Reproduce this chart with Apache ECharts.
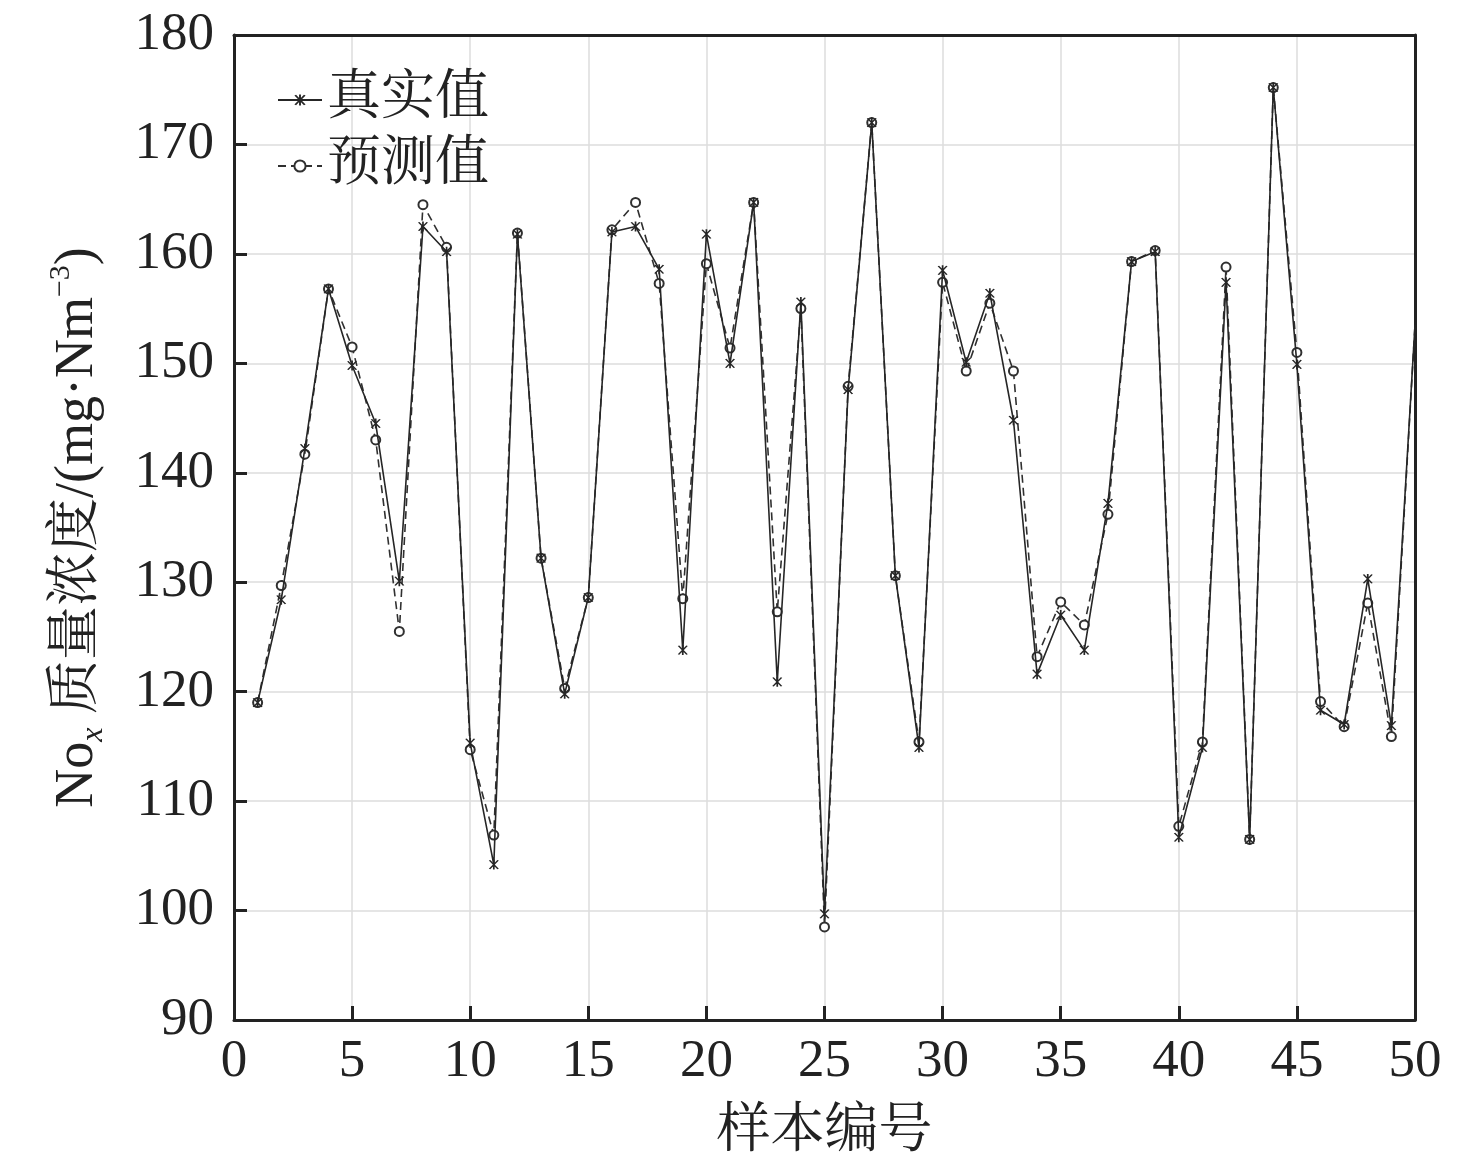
<!DOCTYPE html>
<html>
<head>
<meta charset="utf-8">
<script src="https://cdn.jsdelivr.net/npm/echarts@6/dist/echarts.min.js"></script>
<style>html,body{margin:0;padding:0;background:#fff}#c{width:1476px;height:1169px}</style>
</head>
<body>
<div id="c"></div>
<script>
var samples = [1,2,3,4,5,6,7,8,9,10,11,12,13,14,15,16,17,18,19,20,21,22,23,24,25,26,27,28,29,30,31,32,33,34,35,36,37,38,39,40,41,42,43,44,45,46,47,48,49,50];
var actualValues = [119.0,128.4,142.2,156.8,149.8,144.5,130.1,162.5,160.2,115.3,104.2,161.8,132.2,119.8,128.6,162.0,162.5,158.6,123.8,161.8,150.0,164.7,120.9,155.6,99.7,147.6,172.0,130.6,114.9,158.5,150.1,156.4,144.8,121.6,127.0,123.8,137.2,159.3,160.2,106.7,114.9,157.4,106.5,175.2,149.9,118.3,117.0,130.3,116.9,153.5];
var predictedValues = [119.0,129.7,141.7,156.8,151.5,143.0,125.5,164.5,160.6,114.7,106.9,161.9,132.2,120.3,128.6,162.2,164.7,157.3,128.5,159.1,151.4,164.7,127.3,155.0,98.5,147.9,172.0,130.6,115.4,157.4,149.3,155.5,149.3,123.2,128.2,126.1,136.2,159.3,160.3,107.7,115.4,158.8,106.5,175.2,151.0,119.1,116.8,128.1,115.9,153.5];
var xTicks = [0,5,10,15,20,25,30,35,40,45,50];
var yTicks = [90,100,110,120,130,140,150,160,170,180];
var seriesNames = ['真实值','预测值'];

var serif = '"Liberation Serif","Times New Roman","Noto Serif CJK SC","Noto Sans CJK SC",serif';
var asterisk = 'path://M9,0 L11,0 L11,20 L9,20 Z M4.13,1.84 L5.87,0.84 L15.87,18.16 L14.13,19.16 Z M14.13,0.84 L15.87,1.84 L5.87,19.16 L4.13,18.16 Z';

// the point at the right frame edge is drawn without a marker (as in the reference)
function pairs(vals){
  return samples.map(function(s,i){
    var item = { value: [s, vals[i]] };
    if (s === xTicks[xTicks.length-1]) item.symbolSize = 0;
    return item;
  });
}

var chart = echarts.init(document.getElementById('c'));
var frameLine = { show: true, onZero: false, lineStyle: { color: '#222', width: 3 } };
chart.setOption({
  animation: false,
  backgroundColor: '#fff',
  textStyle: { fontFamily: serif },
  grid: { left: 234, right: 61, top: 35, bottom: 149 },
  legend: {
    orient: 'vertical', left: 272, top: 68, itemWidth: 44, itemHeight: 14, itemGap: 12,
    textStyle: { fontFamily: serif, fontSize: 54, color: '#222', padding: [0,0,0,0] },
    data: seriesNames
  },
  xAxis: [{
    type: 'value', min: xTicks[0], max: xTicks[xTicks.length-1], interval: 5,
    name: '样本编号', nameLocation: 'middle', nameGap: 86,
    nameTextStyle: { fontFamily: serif, fontSize: 54, color: '#222' },
    axisLine: frameLine,
    axisTick: { show: true, inside: true, length: 14, lineStyle: { color: '#222', width: 3 } },
    axisLabel: { fontSize: 53, color: '#222', margin: 16, fontFamily: serif, showMinLabel: true, showMaxLabel: true },
    splitLine: { show: true, lineStyle: { color: '#dcdcdc', width: 1.5 } }
  }, {
    type: 'value', position: 'top', min: xTicks[0], max: xTicks[xTicks.length-1], interval: 5,
    axisLine: frameLine, axisTick: { show: false }, axisLabel: { show: false }, splitLine: { show: false }
  }],
  yAxis: [{
    type: 'value', min: yTicks[0], max: yTicks[yTicks.length-1], interval: 10,
    name: '{a|No}{sub|x}{a| 质量浓度/(mg·Nm}{sup|−3}{a|)}',
    nameLocation: 'middle', nameGap: 124, nameRotate: 90,
    nameTextStyle: {
      fontFamily: serif, fontSize: 54, color: '#222',
      rich: {
        a: { fontFamily: serif, fontSize: 54, color: '#222', lineHeight: 64 },
        sub: { fontFamily: serif, fontSize: 32, fontStyle: 'italic', color: '#222', verticalAlign: 'bottom', lineHeight: 64 },
        sup: { fontFamily: serif, fontSize: 30, color: '#222', verticalAlign: 'top', lineHeight: 64 }
      }
    },
    axisLine: frameLine,
    axisTick: { show: true, inside: true, length: 13, lineStyle: { color: '#222', width: 3 } },
    axisLabel: { fontSize: 53, color: '#222', margin: 20, fontFamily: serif, showMinLabel: true, showMaxLabel: true },
    splitLine: { show: true, lineStyle: { color: '#dcdcdc', width: 1.5 } }
  }, {
    type: 'value', position: 'right', min: yTicks[0], max: yTicks[yTicks.length-1], interval: 10,
    axisLine: frameLine, axisTick: { show: false }, axisLabel: { show: false }, splitLine: { show: false }
  }],
  series: [
    {
      name: seriesNames[0], type: 'line', data: pairs(actualValues),
      symbol: asterisk, symbolSize: 10, showSymbol: true,
      lineStyle: { color: '#262626', width: 1.6 },
      itemStyle: { color: '#262626', borderWidth: 0 },
      z: 3
    },
    {
      name: seriesNames[1], type: 'line', data: pairs(predictedValues),
      symbol: 'emptyCircle', symbolSize: 9, showSymbol: true,
      lineStyle: { color: '#303030', width: 1.6, type: [8, 5] },
      itemStyle: { color: '#303030', borderColor: '#303030', borderWidth: 1.5 },
      z: 2
    }
  ]
});
</script>
</body>
</html>
